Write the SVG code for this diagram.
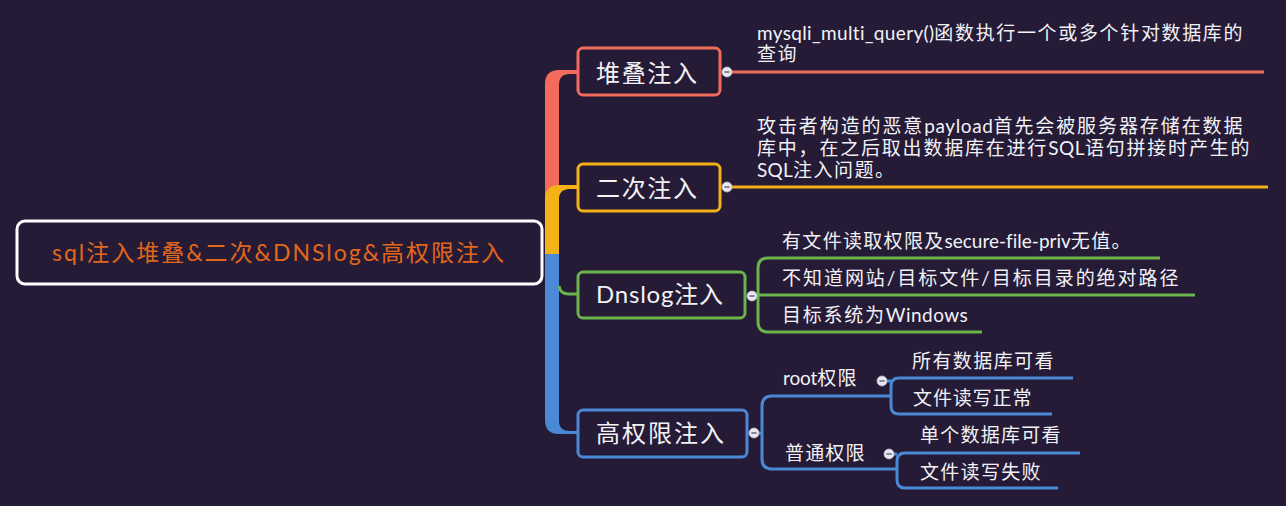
<svg xmlns="http://www.w3.org/2000/svg" width="1286" height="506" viewBox="0 0 1286 506">
<style>
text{font-family:"Lato","Noto Sans CJK SC",sans-serif;fill:#f2f2f6}
.lbl{font-size:24px}
.sub{font-size:19px;letter-spacing:1.5px}
.lat{letter-spacing:0.2px}
.box{fill:#251b37;stroke-width:3}
.ln{fill:none;stroke-width:3}
.red{stroke:#f26b5b}.yel{stroke:#f5b118}.grn{stroke:#6ab44c}.blu{stroke:#4a89d6}
</style>
<defs>
<g id="minus"><circle r="5" fill="#e8e8f0" stroke="#b8b8c8" stroke-width="0.8"/><line x1="-2.6" y1="0" x2="2.6" y2="0" stroke="#6e6e80" stroke-width="1.6"/></g>
</defs>
<rect width="1286" height="506" fill="#251b37"/>
<g id="connectors">
<path d="M545,254 V84 Q545,70 559,70 H578 V74 H570 Q559,74 559,85 V254 Z" fill="#f26b5b"/>
<path d="M545,254 V199 Q545,185 559,185 H578 V189 H570 Q559,189 559,199 V254 Z" fill="#f5b118"/>
<path d="M545,254 V420 Q545,434 559,434 H578 V431 H570 Q559,431 559,421 V254 Z" fill="#4a89d6"/>
<path class="ln grn" d="M559,286 Q560,294 569,294 H578"/>
<path class="ln red" d="M727,72 H1264"/>
<path class="ln yel" d="M727,187 H1268"/>
<path class="ln grn" d="M752,295 H758 M1160,258 H768 Q758,258 758,268 V322 Q758,332 768,332 H982 M758,295 H1195"/>
<path class="ln blu" d="M754,433 H762 M891,396 H772 Q762,396 762,406 V459 Q762,469 772,469 H897"/>
<path class="ln blu" d="M882,381 H891 M1073,378 H899 Q891,378 891,386 V406 Q891,414 899,414 H1052"/>
<path class="ln blu" d="M889,454 H897 M1080,453 H905 Q897,453 897,461 V480 Q897,488 905,488 H1058"/>
</g>
<g id="root">
<rect x="17" y="221" width="525" height="63" rx="8" fill="#251b37" stroke="#ffffff" stroke-width="3"/>
<text x="52" y="261" font-size="23" style="fill:#e2671c" textLength="452" lengthAdjust="spacing">sql注入堆叠&amp;二次&amp;DNSlog&amp;高权限注入</text>
</g>
<g id="n-duidie">
<rect class="box red" x="578" y="48" width="142" height="47" rx="5"/>
<text class="lbl" x="596" y="82" textLength="101" lengthAdjust="spacing">堆叠注入</text>
<use href="#minus" x="727" y="72"/>
</g>
<g id="n-duidie-desc">
<text class="sub" x="757" y="40" textLength="487" lengthAdjust="spacing"><tspan class="lat">mysqli_multi_query()</tspan>函数执行一个或多个针对数据库的</text>
<text class="sub" x="757" y="61">查询</text>
</g>
<g id="n-erci">
<rect class="box yel" x="578" y="164" width="142" height="47" rx="5"/>
<text class="lbl" x="596" y="197" textLength="101" lengthAdjust="spacing">二次注入</text>
<use href="#minus" x="727" y="187"/>
</g>
<g id="n-erci-desc">
<text class="sub" x="757" y="133" textLength="487" lengthAdjust="spacing">攻击者构造的恶意<tspan class="lat">payload</tspan>首先会被服务器存储在数据</text>
<text class="sub" x="757" y="155" textLength="494" lengthAdjust="spacing">库中，在之后取出数据库在进行<tspan class="lat">SQL</tspan>语句拼接时产生的</text>
<text class="sub" x="757" y="177"><tspan class="lat">SQL</tspan>注入问题。</text>
</g>
<g id="n-dnslog">
<rect class="box grn" x="578" y="272" width="167" height="46" rx="5"/>
<text class="lbl" x="596" y="303" textLength="127" lengthAdjust="spacing">Dnslog注入</text>
<use href="#minus" x="752" y="296"/>
</g>
<g id="n-dnslog-1"><text class="sub" x="782" y="248" textLength="350" lengthAdjust="spacing">有文件读取权限及<tspan class="lat">secure-file-priv</tspan>无值。</text></g>
<g id="n-dnslog-2"><text class="sub" x="782" y="285" textLength="398" lengthAdjust="spacing">不知道网站/目标文件/目标目录的绝对路径</text></g>
<g id="n-dnslog-3"><text class="sub" x="782" y="322" textLength="186" lengthAdjust="spacing">目标系统为<tspan class="lat">Windows</tspan></text></g>
<g id="n-gaoquan">
<rect class="box blu" x="578" y="410" width="169" height="47" rx="5"/>
<text class="lbl" x="596" y="442" textLength="128" lengthAdjust="spacing">高权限注入</text>
<use href="#minus" x="754" y="433"/>
</g>
<g id="n-root">
<text class="sub" x="783" y="385" textLength="75" lengthAdjust="spacing"><tspan class="lat">root</tspan>权限</text>
<use href="#minus" x="882" y="381"/>
</g>
<g id="n-root-1"><text class="sub" x="912" y="368" textLength="143" lengthAdjust="spacing">所有数据库可看</text></g>
<g id="n-root-2"><text class="sub" x="913" y="405" textLength="120" lengthAdjust="spacing">文件读写正常</text></g>
<g id="n-putong">
<text class="sub" x="785" y="460" textLength="81" lengthAdjust="spacing">普通权限</text>
<use href="#minus" x="889" y="454"/>
</g>
<g id="n-putong-1"><text class="sub" x="920" y="442" textLength="142" lengthAdjust="spacing">单个数据库可看</text></g>
<g id="n-putong-2"><text class="sub" x="920" y="479" textLength="122" lengthAdjust="spacing">文件读写失败</text></g>
</svg>
